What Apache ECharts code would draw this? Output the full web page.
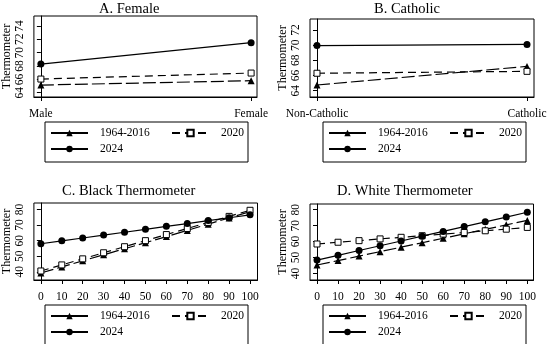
<!DOCTYPE html>
<html><head><meta charset="utf-8">
<script src="https://cdn.jsdelivr.net/npm/echarts@6/dist/echarts.min.js"></script>
<style>html,body{margin:0;padding:0;background:#fff}#c{width:550px;height:344px}</style>
</head><body><div id="c"></div>
<script>
const seriesNames = ['1964-2016', '2020', '2024'];
const femaleCats = ['Male', 'Female'];
const female1964 = [65.15, 65.8];
const female2020 = [66.05, 66.95];
const female2024 = [68.3, 71.5];
const catholicCats = ['Non-Catholic', 'Catholic'];
const catholic1964 = [64.75, 67.2];
const catholic2020 = [66.3, 66.55];
const catholic2024 = [69.95, 70.1];
const thermoX = [0, 10, 20, 30, 40, 50, 60, 70, 80, 90, 100];
const black1964 = [39.2, 43.1, 47.0, 50.9, 54.8, 58.7, 62.6, 66.6, 70.6, 74.6, 78.6];
const black2020 = [40.5, 44.4, 48.3, 52.2, 56.1, 60.0, 63.9, 67.8, 71.7, 75.6, 79.5];
const black2024 = [58.0, 59.9, 61.7, 63.6, 65.4, 67.3, 69.2, 71.0, 72.9, 74.7, 76.6];
const white1964 = [45.3, 48.1, 50.9, 53.7, 56.5, 59.3, 62.1, 64.9, 67.7, 70.5, 73.3];
const white2020 = [58.5, 59.6, 60.6, 61.7, 62.7, 63.7, 64.7, 65.7, 66.8, 67.8, 68.9];
const white2024 = [48.4, 51.4, 54.4, 57.4, 60.4, 63.4, 66.4, 69.4, 72.4, 75.4, 78.4];
const yTicksA = [64, 66, 68, 70, 72, 74];
const yTicksB = [64, 66, 68, 70, 72];
const yTicksCD = [40, 50, 60, 70, 80];
const catTicks = [0, 1];
const panelTitles = ['A. Female', 'B. Catholic', 'C. Black Thermometer', 'D. White Thermometer'];

const FONT = 'Liberation Serif';
const chart = echarts.init(document.getElementById('c'), null, {renderer: 'canvas'});

const grids = [
  {left: 33, top: 16, width: 224, height: 81},
  {left: 310, top: 19, width: 224, height: 78},
  {left: 33, top: 203, width: 224.5, height: 77},
  {left: 310, top: 204, width: 223.5, height: 76}
].map(g => Object.assign({show: true, borderColor: '#000', borderWidth: 1, backgroundColor: '#fff'}, g));

function xAxis(i, min, max, ticks, cats) {
  return {
    type: 'value', gridIndex: i, min: min, max: max,
    splitLine: {show: false},
    axisLine: {show: true, lineStyle: {color: '#000', width: 1}},
    axisTick: {show: true, length: 4, lineStyle: {color: '#000'}, customValues: ticks},
    axisLabel: {
      color: '#000', fontFamily: FONT, fontSize: 11.5, margin: 11, customValues: ticks,
      formatter: cats ? (v => cats[Math.round(v)]) : (v => String(v))
    }
  };
}
function yAxis(i, min, max, ticks) {
  return {
    type: 'value', gridIndex: i, min: min, max: max,
    name: 'Thermometer', nameLocation: 'middle', nameGap: 19, nameRotate: 90,
    nameTextStyle: {color: '#000', fontFamily: FONT, fontSize: 12},
    splitLine: {show: false},
    axisLine: {show: true, lineStyle: {color: '#000', width: 1}},
    axisTick: {show: true, length: 4, lineStyle: {color: '#000'}, customValues: ticks},
    axisLabel: {color: '#000', fontFamily: FONT, fontSize: 11.5, margin: 8, rotate: 90, customValues: ticks}
  };
}

const styles = [
  {symbol: 'triangle', symbolSize: 7, lineStyle: {color: '#000', width: 1.2, type: [13, 4]}, itemStyle: {color: '#000'}},
  {symbol: 'rect', symbolSize: 6, lineStyle: {color: '#000', width: 1.2, type: [8, 5]}, itemStyle: {color: '#fff', borderColor: '#000', borderWidth: 1}},
  {symbol: 'circle', symbolSize: 7, lineStyle: {color: '#000', width: 1.2, type: 'solid'}, itemStyle: {color: '#000'}}
];

const panelData = [
  [female1964, female2020, female2024].map(a => a.map((v, k) => [k, v])),
  [catholic1964, catholic2020, catholic2024].map(a => a.map((v, k) => [k, v])),
  [black1964, black2020, black2024].map(a => a.map((v, k) => [thermoX[k], v])),
  [white1964, white2020, white2024].map(a => a.map((v, k) => [thermoX[k], v]))
];

const series = [];
panelData.forEach((sets, p) => {
  sets.forEach((d, s) => {
    series.push(Object.assign({
      type: 'line', name: seriesNames[s], xAxisIndex: p, yAxisIndex: p, data: d,
      showSymbol: true, animation: false, z: 3 + s
    }, JSON.parse(JSON.stringify(styles[s]))));
  });
});

const legendPos = [[45, 122], [323, 122], [45, 305], [323, 305]];
const legends = legendPos.map(pos => ({
  left: pos[0], top: pos[1], orient: 'horizontal', width: 200,
  data: [{name: seriesNames[0], lineStyle: {type: 'solid'}}, seriesNames[1], seriesNames[2]],
  itemWidth: 37, itemHeight: 8, itemGap: 0,
  borderColor: '#000', borderWidth: 1, padding: [3, 4, 5, 5],
  selectedMode: false,
  lineStyle: {color: '#000'},
  formatter: name => name === seriesNames[0] ? '{w|' + name + '}' : '{n|' + name + '}',
  textStyle: {
    color: '#000', fontFamily: FONT, fontSize: 11.5, lineHeight: 16, padding: [0, 0, 0, 7],
    rich: {w: {width: 71, fontFamily: FONT, fontSize: 11.5, lineHeight: 16}, n: {fontFamily: FONT, fontSize: 11.5, lineHeight: 16}}
  }
}));

const titlePos = [[99, 2], [374, 2], [62, 184], [337, 184]];
const titles = titlePos.map((pos, i) => ({
  text: panelTitles[i], left: pos[0], top: pos[1], padding: 0,
  textStyle: {color: '#000', fontFamily: FONT, fontSize: 14.5, fontWeight: 'normal'}
}));

chart.setOption({
  backgroundColor: '#fff',
  animation: false,
  title: titles,
  legend: legends,
  grid: grids,
  xAxis: [
    xAxis(0, -0.0332, 1.028, catTicks, femaleCats),
    xAxis(1, -0.0333, 1.0333, catTicks, catholicCats),
    xAxis(2, -3.33, 103.57, thermoX, null),
    xAxis(3, -3.33, 102.95, thermoX, null)
  ],
  yAxis: [
    yAxis(0, 63.36, 75.5, yTicksA),
    yAxis(1, 63.17, 73.45, yTicksB),
    yAxis(2, 34.7, 84.2, yTicksCD),
    yAxis(3, 35.9, 83.6, yTicksCD)
  ],
  series: series
});
</script></body></html>
